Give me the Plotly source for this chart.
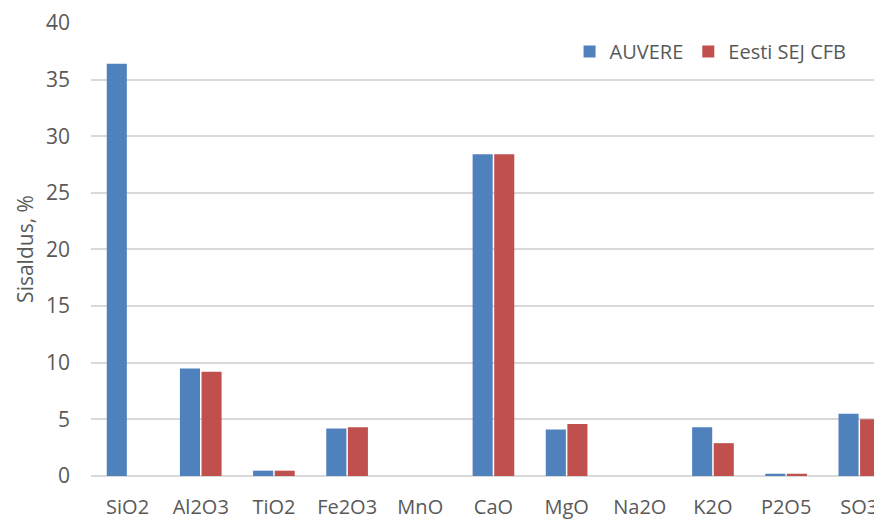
import plotly.graph_objects as go

categories = ["SiO2", "Al2O3", "TiO2", "Fe2O3", "MnO", "CaO", "MgO", "Na2O", "K2O", "P2O5", "SO3"]
tick_labels = ["SiO2", "Al2O3", "TiO2", "Fe2O3", "MnO", "CaO", "MgO", "Na2O", "K2O", "P2O5", "SO3"]
auvere = [36.4, 9.5, 0.47, 4.2, 0.0, 28.4, 4.1, 0.0, 4.3, 0.2, 5.5]
eesti = [0.0, 9.2, 0.47, 4.3, 0.0, 28.4, 4.6, 0.0, 2.9, 0.2, 5.0]

font_family = "Open Sans, Liberation Sans, sans-serif"
grey = "#595959"

fig = go.Figure()
fig.add_trace(go.Bar(x=list(range(len(categories))), y=auvere, name="AUVERE",
                     marker=dict(color="#4F81BD", line=dict(width=0))))
fig.add_trace(go.Bar(x=list(range(len(categories))), y=eesti, name="Eesti SEJ CFB",
                     marker=dict(color="#C0504D", line=dict(width=0))))

fig.update_layout(
    width=882, height=521,
    margin=dict(l=83, r=8, t=14, b=53, autoexpand=False),
    paper_bgcolor="white", plot_bgcolor="white",
    barmode="group", bargap=0.41, bargroupgap=0.07,
    font=dict(family=font_family, size=20, color=grey),
    legend=dict(orientation="h", x=0.605, xanchor="left", y=0.935, yanchor="middle",
                font=dict(size=20, color=grey), bgcolor="rgba(0,0,0,0)",
                traceorder="normal"),
    xaxis=dict(tickmode="array", tickvals=list(range(len(categories))), ticktext=tick_labels,
               range=[-0.5, 10.31], showgrid=False, zeroline=False, showline=False,
               ticks="", ticklabelstandoff=17, automargin=False,
               tickfont=dict(size=20, color=grey)),
    yaxis=dict(range=[0, 40.08], dtick=5, tick0=0, showgrid=True, gridcolor="#d9d9d9", gridwidth=1.5,
               zeroline=True, zerolinecolor="#d9d9d9", zerolinewidth=1.5, showline=False,
               ticks="", ticklabelstandoff=20, automargin=False,
               tickfont=dict(size=21, color=grey),
               title=dict(text="Sisaldus, %", font=dict(size=21, color=grey), standoff=6)),
)

fig.write_html("out.html")
